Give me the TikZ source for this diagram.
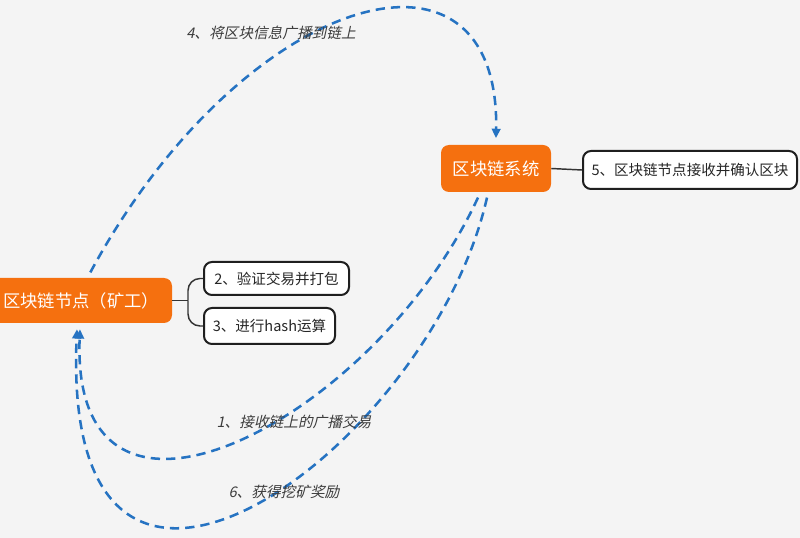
\documentclass[tikz,border=0pt]{standalone}
\usepackage{fontspec}
\setmainfont{Noto Sans CJK SC}
\newfontfamily\cjkit[FakeSlant=0.22]{Noto Sans CJK SC}
\usetikzlibrary{arrows.meta}
\definecolor{bg}{HTML}{F4F4F4}
\definecolor{orng}{HTML}{F5700F}
\definecolor{flow}{HTML}{2673C2}
\definecolor{lbl}{HTML}{3C3C3C}
\tikzset{
  mainbox/.style={fill=orng, rounded corners=6pt, text=white, font=\fontsize{13}{15}\selectfont, inner sep=0pt},
  subbox/.style={draw=black!88, line width=1.5pt, fill=white, rounded corners=6pt, text=black!85, font=\fontsize{10.9}{12}\selectfont, inner sep=0pt},
  tie/.style={draw=black!80, line width=1.1pt},
  flowline/.style={draw=flow, line width=1.9pt, dash pattern=on 7pt off 4.5pt, -{Triangle[length=7pt,width=6.5pt]}},
  flowlabel/.style={text=lbl, font=\cjkit\fontsize{11}{13}\selectfont}
}
\begin{document}
\begin{tikzpicture}[x=0.75pt,y=-0.75pt]
\useasboundingbox (0,0) rectangle (800,538);
\fill[bg] (0,0) rectangle (800,538);

\node[mainbox, minimum width=136.5pt, minimum height=33.75pt] (miner) at (81,300.5) {区块链节点（矿工）};
\node[mainbox, minimum width=82.5pt, minimum height=35.25pt] (sys) at (496,168.5) {区块链系统};
\node[subbox, minimum width=108.75pt, minimum height=24.75pt] (b2) at (276.5,278.5) {2、验证交易并打包};
\node[subbox, minimum width=98.25pt, minimum height=27pt] (b3) at (269.5,326) {3、进行hash运算};
\node[subbox, minimum width=160.5pt, minimum height=28.5pt] (b5) at (690,170) {5、区块链节点接收并确认区块};

\coordinate (fork) at (188,300.5);
\draw[tie] (miner.east) -- (fork);
\draw[tie, rounded corners=9pt] (fork) |- (b2.west);
\draw[tie, rounded corners=9pt] (fork) |- (b3.west);
\draw[tie] (sys.east) -- (b5.west);

\draw[flowline] ([xshift=7pt,yshift=4pt]miner.north) .. controls (240,-5) and (500,-85) .. ([yshift=5pt]sys.north);
\draw[flowline] ([xshift=-13.5pt,yshift=-4pt]sys.south) .. controls (375,420) and (70,580) .. ([xshift=-0.75pt,yshift=-4.5pt]miner.south);
\draw[flowline] ([xshift=-6.75pt,yshift=-4pt]sys.south) .. controls (430,450) and (60,720) .. ([xshift=-3pt,yshift=-4.5pt]miner.south);

\node[flowlabel] (l4) at (271,33) {4、将区块信息广播到链上};
\node[flowlabel] (l1) at (294,422) {1、接收链上的广播交易};
\node[flowlabel] (l6) at (284,492) {6、获得挖矿奖励};
\end{tikzpicture}
\end{document}
